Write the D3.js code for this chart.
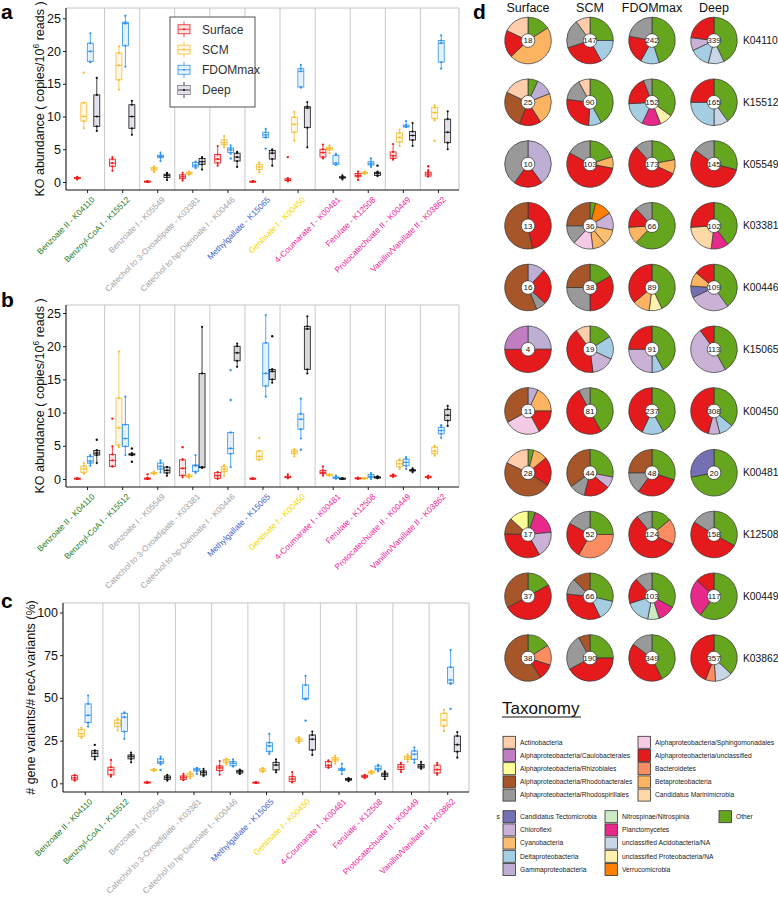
<!DOCTYPE html>
<html><head><meta charset="utf-8">
<script src="https://cdn.jsdelivr.net/npm/d3@7"></script>
<style>
body{margin:0;background:#fff}
svg{display:block;font-family:"Liberation Sans",Arial,Helvetica,sans-serif}
</style>
</head><body>
<svg id="chart" width="778" height="900"></svg>
<script>
// ---------------- DATA ----------------
const categories = [
  "Benzoate II - K04110","Benzoyl-CoA I - K15512","Benzoate I - K05549",
  "Catechol to 3-Oxoadipate - K03381","Catechol to hp-Dienoate I - K00446",
  "Methylgallate - K15065","Gentisate I - K00450","4-Coumarate I - K00481",
  "Ferulate - K12508","Protocatechuate II - K00449","Vanillin/Vanillate II - K03862"];
const pathwayGroup = ["benzoyl","benzoyl","catechol","catechol","catechol","gallate","gentisate","proto","proto","proto","proto"];
const depths = ["Surface","SCM","FDOMmax","Deep"];

// boxplot stats per category: [lower whisker, q1, median, q3, upper whisker]
const aSurface = [[0.4,0.5,0.6,0.7,0.8],[1.7,2.4,2.9,3.5,3.8],[0,0.02,0.05,0.08,0.15],[0.2,0.5,0.8,1.1,1.4],[2.5,2.9,3.5,4.2,5.5],[0,0.02,0.05,0.08,0.12],[0.1,0.2,0.3,0.5,0.6],[3.6,3.8,4.5,5.0,5.7],[0.3,0.8,1.0,1.3,1.6],[3.4,3.6,4.0,4.6,5.8],[0.8,0.9,1.2,1.5,1.8]];
const aSCM = [[8.2,9.3,10.0,12.1,12.1],[14.1,15.6,17.8,19.7,20.7],[1.5,1.8,2.0,2.2,2.4],[1.1,1.2,1.3,1.5,1.6],[5.3,5.7,6.0,6.4,7.0],[1.5,1.9,2.3,2.7,3.0],[6.3,7.6,8.8,9.9,10.7],[4.4,4.9,5.1,5.3,5.6],[1.2,1.3,1.4,1.5,1.6],[5.5,6.1,6.8,7.5,8.0],[9.4,9.7,10.6,11.4,11.7]];
const aFDOM = [[18.3,18.4,19.95,21.2,22.7],[17.6,20.8,24.2,24.4,25.4],[3.2,3.7,3.9,4.1,4.5],[2.1,2.3,2.6,3.0,3.1],[4.3,4.5,4.9,5.2,5.6],[6.8,6.8,7.2,7.6,8.1],[14.4,14.5,16.9,17.3,17.9],[2.6,2.7,2.9,4.1,4.3],[2.3,2.6,2.8,3.1,3.6],[8.4,8.4,8.5,8.7,9.3],[17.3,18.3,21.2,21.6,22.4]];
const aDeep = [[7.8,8.5,10.0,13.3,15.9],[7.2,8.2,10.0,11.8,12.4],[0.3,0.7,1.0,1.2,1.4],[1.9,2.7,3.1,3.6,3.8],[2.3,3.2,3.8,4.4,4.6],[2.5,3.5,4.4,4.8,5.0],[5.3,8.3,11.3,11.5,12.2],[0.4,0.6,0.7,0.8,1.0],[0.9,1.0,1.3,1.5,1.6],[5.5,6.4,7.1,7.7,9.0],[5.0,6.0,7.6,9.6,10.8]];
// outliers: [category index, depth, value]
const aOutliers = [[0,"SCM",16.7],[6,"Surface",3.8],[10,"Surface",2.4],[10,"SCM",6.3],[4,"FDOMmax",3.6],[5,"FDOMmax",5.1],[8,"Deep",2.5]];

const bSurface = [[0,0.02,0.05,0.08,0.12],[1.9,1.9,2.8,3.7,4.9],[0,0.02,0.05,0.1,0.2],[0.25,0.5,1.6,2.9,3.0],[0,0.1,0.5,1.0,1.0],[0,0.02,0.05,0.08,0.1],[0.1,0.2,0.3,0.4,0.7],[0.5,0.8,1.0,1.3,1.9],[0,0.05,0.1,0.15,0.2],[0.3,0.4,0.5,0.6,0.7],[0.1,0.2,0.3,0.4,0.5]];
const bSCM = [[0.75,1.0,1.5,1.96,2.4],[4.8,5.1,7.7,12.2,19.2],[0.7,0.8,0.9,1.0,1.1],[0.2,0.3,0.4,0.6,0.7],[0.5,1.1,1.5,1.9,2.1],[2.9,2.9,3.4,4.2,4.2],[3.4,3.8,4.1,4.4,4.5],[0.5,0.55,0.6,0.65,0.7],[0.05,0.08,0.1,0.12,0.15],[1.5,1.8,2.3,2.8,3.0],[3.5,3.8,4.2,4.8,5.0]];
const bFDOM = [[2.0,2.4,2.7,3.4,3.6],[3.6,4.9,6.1,8.2,12.4],[1.0,1.5,1.9,2.4,2.8],[0.9,1.1,2.0,2.1,3.6],[1.8,3.8,4.6,7.0,7.0],[12.4,14.0,15.9,20.5,24.7],[6.1,7.5,9.0,9.8,12.1],[0.05,0.1,0.2,0.3,0.5],[0,0.2,0.4,0.7,0.9],[1.5,2.0,2.5,3.0,3.3],[6.2,6.8,7.3,7.8,8.1]];
const bDeep = [[2.4,3.6,3.9,4.3,4.3],[3.6,3.6,3.7,3.8,3.9],[0.5,0.9,1.3,1.8,1.8],[1.7,1.7,1.8,15.9,22.9],[16.9,17.8,19.0,20.0,20.4],[14.5,15.0,16.2,16.5,16.5],[15.9,16.5,22.6,23.0,24.5],[0,0.02,0.05,0.08,0.1],[0.1,0.15,0.2,0.35,0.4],[1.0,1.2,1.3,1.4,1.6],[8.0,8.8,9.6,10.5,11.0]];
const bOutliers = [[1,"Surface",9.1],[2,"Surface",0.7],[3,"Surface",4.8],[5,"SCM",6.2],[4,"FDOMmax",16.4],[4,"FDOMmax",11.9],[6,"FDOMmax",4.4],[0,"Deep",5.9],[1,"Deep",4.6],[1,"Deep",2.6],[5,"Deep",21.5]];

const cSurface = [[1.5,2.0,3.2,4.5,5.0],[3.9,4.9,7.8,9.4,13.7],[0.2,0.3,0.5,0.6,0.8],[1.8,2.3,3.3,4.3,5.5],[5.0,7.4,9.0,10.2,13.0],[0.2,0.3,0.4,0.5,0.6],[0.5,1.0,2.5,3.9,6.5],[9.0,9.4,10.5,12.7,13.5],[3.0,3.5,4.0,4.7,5.0],[6.6,8.0,9.5,11.0,12.0],[5.0,6.0,8.0,10.7,12.0]];
const cSCM = [[26.5,27.5,29,31.5,32.5],[30.9,33.2,35.2,37.1,38],[7.0,7.5,7.8,8.1,8.5],[3.0,4.0,5.0,6.0,6.5],[11,12,13,14,14.5],[6.5,7.0,7.8,8.5,9.0],[23.5,24.5,25.4,26.5,27],[11.5,13,14,15,16],[5.5,6.0,6.5,7.0,7.5],[12.5,14,15,16,17],[30.5,33.5,37,41,43]];
const cFDOM = [[33.2,35.5,39.8,46.5,51.4],[26,30.3,38.7,41,41.6],[11,11.7,12.5,14.3,15.6],[5.5,7.2,8,8.8,9],[9.8,10.2,11.7,12.7,14],[17.2,18.5,21.9,23.8,28.9],[49,49.4,49.6,57.6,62.9],[5.5,7.5,8,8.8,11.5],[7,7.8,8.6,10.2,10.8],[12,14,17,19,21],[58,58.6,60.5,68,78]];
const cDeep = [[14,15.6,17.6,19.1,19.1],[12.3,14.3,15.6,16.6,18],[1.5,2.3,3.3,4.3,5],[4.3,4.9,6.2,7.2,8.4],[5.5,6,6.8,7.6,8],[6.4,7.8,10.7,12.3,14],[16.6,19.5,25.8,28.3,30.3],[1.2,1.8,2.2,2.8,3],[2.5,4,5,6,7],[8.5,9,10,11,12.5],[15,18.5,22.6,27.7,30]];
const cOutliers = [[2,"FDOMmax",7.8],[6,"FDOMmax",36.7],[10,"FDOMmax",43.6],[0,"Deep",22.5]];

const ticksAB = [0,5,10,15,20,25];
const ticksC = [0,25,50,75,100];

// Pie data (panel d)
const pieKOs = ["K04110","K15512","K05549","K03381","K00446","K15065","K00450","K00481","K12508","K00449","K03862"];
const pieTotals = [[18,147,242,339],[25,90,152,165],[10,103,173,145],[13,36,66,102],[16,38,89,109],[4,19,91,113],[11,81,237,308],[28,44,48,20],[17,52,124,158],[37,66,103,117],[38,190,349,357]];
const taxa = ["Actinobacteria","Alphaproteobacteria/Caulobacterales","Alphaproteobacteria/Rhizobiales","Alphaproteobacteria/Rhodobacterales","Alphaproteobacteria/Rhodospirillales",
  "Alphaproteobacteria/Sphingomonadales","Alphaproteobacteria/unclassified","Bacteroidetes","Betaproteobacteria","Candidatus Marinimicrobia",
  "Candidatus Tectomicrobia","Chloroflexi","Cyanobacteria","Deltaproteobacteria","Gammaproteobacteria",
  "Nitrospinae/Nitrospinia","Planctomycetes","unclassified Acidobacteria/NA","unclassified Proteobacteria/NA","Verrucomicrobia","Other"];
const taxaCodes = ["Act","Cau","Rhi","Rhb","Rhs","Sph","AlU","Bac","Bet","Mar","Tec","Chl","Cya","Del","Gam","Nit","Pla","Aci","Pro","Ver","Oth"];
// slices per KO row, per depth (clockwise from 12 o'clock), percent
const slicesK04110 = [[["Oth",16],["Bet",47],["AlU",19],["Act",18]],[["Oth",25],["Del",17],["AlU",28],["Rhs",20],["Act",10]],[["Oth",45],["Del",13],["AlU",20],["Rhs",22]],[["Oth",43],["Aci",11],["Del",14],["Chl",9],["AlU",23]]];
const slicesK15512 = [[["Oth",7],["Gam",12],["Bet",22],["AlU",15],["Rhb",26],["Act",18]],[["Oth",42],["Del",9],["AlU",26],["Rhs",15],["Act",8]],[["Oth",35],["Pro",9],["Pla",13],["Del",17],["AlU",20],["Rhs",6]],[["Oth",40],["Aci",10],["Del",25],["AlU",25]]];
const slicesK05549 = [[["Gam",40],["AlU",20],["Rhs",40]],[["Oth",20],["Bet",8],["AlU",55],["Rhs",17]],[["Oth",22],["Bet",10],["AlU",56],["Rhs",12]],[["Oth",29],["AlU",56],["Rhs",15]]];
const slicesK03381 = [[["AlU",47],["Rhb",53]],[["Oth",4],["Ver",12],["Chl",12],["Cya",11],["Bet",9],["Sph",14],["Rhs",13],["Rhb",25]],[["Oth",62],["Bet",12],["AlU",14],["Rhs",12]],[["Oth",40],["Pla",12],["Mar",22],["AlU",26]]];
const slicesK00446 = [[["Gam",12],["AlU",25],["Rhs",7],["Rhb",56]],[["Oth",17],["AlU",33],["Rhs",25],["Rhb",25]],[["Oth",43],["Pro",9],["Bet",12],["AlU",36]],[["Oth",40],["Chl",28],["Tec",8],["Bet",10],["AlU",14]]];
const slicesK15065 = [[["Gam",25],["AlU",50],["Cau",25]],[["Oth",16],["Del",16],["Chl",16],["AlU",42],["Act",10]],[["Oth",42],["Del",8],["Chl",25],["AlU",25]],[["Oth",42],["Chl",48],["AlU",10]]];
const slicesK00450 = [[["Gam",7],["Bet",18],["AlU",17],["Sph",25],["Rhb",33]],[["Oth",42],["AlU",50],["Rhs",8]],[["Oth",42],["Del",15],["AlU",43]],[["Oth",36],["Del",10],["Chl",8],["AlU",46]]];
const slicesK00481 = [[["Oth",4],["Bet",10],["AlU",20],["Rhb",48],["Act",18]],[["Oth",28],["Chl",8],["AlU",18],["Rhs",11],["Rhb",35]],[["Oth",30],["AlU",30],["Rhs",15],["Rhb",25]],[["Oth",72],["Tec",28]]];
const slicesK12508 = [[["Oth",5],["Pla",18],["Chl",18],["AlU",33],["Rhb",11],["Rhi",13]],[["Oth",25],["Bac",33],["AlU",25],["Rhs",17]],[["Oth",14],["Bac",18],["AlU",57],["Rhs",11]],[["Oth",33],["AlU",51],["Rhs",16]]];
const slicesK00449 = [[["Oth",17],["AlU",50],["Rhb",33]],[["Oth",28],["Del",14],["AlU",33],["Rhs",11],["Rhb",12]],[["Oth",33],["Pla",12],["Nit",8],["Del",17],["AlU",18],["Rhs",12]],[["Oth",60],["Pla",27],["AlU",13]]];
const slicesK03862 = [[["Oth",16],["Bac",14],["AlU",11],["Rhb",59]],[["Oth",25],["AlU",42],["Rhs",25],["Rhb",8]],[["Oth",43],["AlU",42],["Rhs",15]],[["Oth",37],["Aci",12],["Bac",7],["AlU",44]]];
const pieSlices = [slicesK04110,slicesK15512,slicesK05549,slicesK03381,slicesK00446,slicesK15065,slicesK00450,slicesK00481,slicesK12508,slicesK00449,slicesK03862];

// ---------------- STYLE ----------------
const FONT = '"Liberation Sans",Arial,Helvetica,sans-serif';
const depthColor = d3.scaleOrdinal(depths, ["#F21B1B","#F6BE2E","#2D93F2","#111111"]);
const depthFill = d3.scaleOrdinal(depths, ["#F21B1B","#F6BE2E","#2D93F2","#6E5A8C"]);
const groupColor = d3.scaleOrdinal(["benzoyl","catechol","gallate","gentisate","proto"], ["#1E7D1E","#A3A3A3","#3F5FD0","#F2D600","#F0259B"]);
const taxaColor = d3.scaleOrdinal(taxaCodes, ["#FDCDAC","#C17DC1","#FFFF99","#A65628","#999999","#F4CAE4","#E41A1C","#FC8D62","#FDB462","#FED9A6","#7570B3","#CAB2D6","#FDBF6F","#A6CEE3","#BEAED4","#CCEBC5","#E7298A","#CBD5E8","#FFF2AE","#FF7F00","#66A61E"]);

const svg = d3.select("#chart");
svg.append("rect").attr("width",778).attr("height",900).attr("fill","#fff");

function boxPanel(cfg) {
  const x = d3.scalePoint().domain(categories).range([cfg.x0, cfg.x1]).padding(0.6);
  const step = x.step();
  const dodge = d3.scaleBand().domain(depths).range([-0.37*step, 0.37*step]);
  const bw = dodge.bandwidth()*0.92;
  const y = d3.scaleLinear().domain(cfg.domain).range(cfg.range);
  const g = svg.append("g");
  g.selectAll("line.sep").data(categories.slice(1)).join("line")
    .attr("x1", c => x(c)-step/2).attr("x2", c => x(c)-step/2)
    .attr("y1", cfg.top).attr("y2", cfg.bottom)
    .attr("stroke","#c9c9c9").attr("stroke-width",1);
  g.append("path").attr("d",`M${cfg.x0},${cfg.top}H${cfg.x1}V${cfg.bottom}`)
    .attr("fill","none").attr("stroke","#c4c4c4").attr("stroke-width",1);
  const series = cfg.series;
  depths.forEach((dp, di) => {
    const arr = series[di];
    const col = depthColor(dp);
    arr.forEach((s, ci) => {
      const cx = x(categories[ci]) + dodge(dp) + dodge.bandwidth()/2;
      const bg = g.append("g");
      bg.append("line").attr("x1",cx).attr("x2",cx).attr("y1",y(s[0])).attr("y2",y(s[1]))
        .attr("stroke",col).attr("stroke-width",0.8);
      bg.append("line").attr("x1",cx).attr("x2",cx).attr("y1",y(s[3])).attr("y2",y(s[4]))
        .attr("stroke",col).attr("stroke-width",0.8);
      const h = Math.max(y(s[1]) - y(s[3]), 1.2);
      bg.append("rect").attr("x",cx-bw/2).attr("width",bw)
        .attr("y",(y(s[1])+y(s[3]))/2 - h/2).attr("height",h)
        .attr("fill", dp==="Deep" ? cfg.deepFill : depthFill(dp))
        .attr("fill-opacity", dp==="Deep" ? 1 : 0.12)
        .attr("stroke",col).attr("stroke-width",0.8);
      bg.append("line").attr("x1",cx-bw/2).attr("x2",cx+bw/2).attr("y1",y(s[2])).attr("y2",y(s[2]))
        .attr("stroke",col).attr("stroke-width",0.9);
      bg.selectAll("circle").data(s).join("circle")
        .attr("cx",cx).attr("cy",v=>y(v)).attr("r",1.1).attr("fill",col);
    });
  });
  g.selectAll("circle.out").data(cfg.outliers).join("circle")
    .attr("cx", d => x(categories[d[0]]) + dodge(d[1]) + dodge.bandwidth()/2)
    .attr("cy", d => y(d[2])).attr("r",1.2).attr("fill", d => depthColor(d[1]));
  const ya = g.append("g").attr("transform",`translate(${cfg.x0},0)`)
    .call(d3.axisLeft(y).tickValues(cfg.ticks).tickSize(3).tickSizeOuter(0));
  ya.select(".domain").remove();
  ya.selectAll("text").attr("font-size",12.5).attr("fill","#111").attr("font-family",FONT).attr("x",-5);
  ya.selectAll("line").attr("stroke","#222");
  g.append("line").attr("x1",cfg.x0).attr("x2",cfg.x0).attr("y1",cfg.top).attr("y2",cfg.bottom)
    .attr("stroke","#111").attr("stroke-width",1.1);
  const xa = g.append("g").attr("transform",`translate(0,${cfg.bottom})`)
    .call(d3.axisBottom(x).tickSize(3).tickSizeOuter(0));
  xa.select(".domain").remove();
  xa.selectAll("line").attr("stroke","#222");
  xa.selectAll("text").remove();
  g.append("line").attr("x1",cfg.x0).attr("x2",cfg.x1).attr("y1",cfg.bottom).attr("y2",cfg.bottom)
    .attr("stroke","#111").attr("stroke-width",1.1);
  g.selectAll("text.xl").data(categories).join("text")
    .attr("transform", c => `translate(${x(c)+4},${cfg.bottom+6}) rotate(-45)`)
    .attr("text-anchor","end").attr("dy","0.72em")
    .attr("font-size",8.3).attr("font-family",FONT)
    .attr("fill",(c,i) => groupColor(pathwayGroup[i]))
    .text(c => c);
  const t = g.append("text")
    .attr("transform",`translate(${cfg.titleX},${(cfg.top+cfg.bottom)/2}) rotate(-90)`)
    .attr("text-anchor","middle").attr("font-size",12.5).attr("font-family",FONT).attr("fill","#111");
  cfg.title(t);
  svg.append("text").attr("x",cfg.letterX).attr("y",cfg.letterY).attr("font-size",21).attr("font-weight","bold")
    .attr("font-family",FONT).text(cfg.letter);
  return {x,y,g};
}

function koTitle(t){
  t.append("tspan").text("KO abundance ( copies/10");
  t.append("tspan").attr("font-size",8.5).attr("dy",-5).text("6");
  t.append("tspan").attr("dy",5).text(" reads )");
}

boxPanel({x0:66,x1:459,top:8,bottom:190,domain:[0,25],range:[182,18.3],ticks:ticksAB,deepFill:"#E6E0EC",
  series:[aSurface,aSCM,aFDOM,aDeep],outliers:aOutliers,title:koTitle,titleX:44,letter:"a",letterX:1,letterY:19});
boxPanel({x0:66,x1:459,top:305,bottom:487,domain:[0,25],range:[479,313],ticks:ticksAB,deepFill:"#D9D9D9",
  series:[bSurface,bSCM,bFDOM,bDeep],outliers:bOutliers,title:koTitle,titleX:44,letter:"b",letterX:1,letterY:307});
boxPanel({x0:63,x1:469,top:603,bottom:792,domain:[0,100],range:[783.3,612.5],ticks:ticksC,deepFill:"#E6E0EC",
  series:[cSurface,cSCM,cFDOM,cDeep],outliers:cOutliers,title:t=>t.text("# gene variants/# recA variants (%)"),titleX:35,letter:"c",letterX:1,letterY:608});

// legend panel a
const lg = svg.append("g");
lg.append("rect").attr("x",170).attr("y",17).attr("width",85).attr("height",90)
  .attr("fill","#fff").attr("stroke","#555").attr("stroke-width",1);
const ly = d3.scalePoint().domain(depths).range([29.3,90]);
depths.forEach(dp => {
  const yc = ly(dp), col = depthColor(dp), cx = 184;
  lg.append("line").attr("x1",cx).attr("x2",cx).attr("y1",yc-8).attr("y2",yc+8).attr("stroke",col).attr("stroke-width",0.8);
  lg.append("rect").attr("x",cx-6).attr("y",yc-4.5).attr("width",12).attr("height",9)
    .attr("fill","#fff").attr("stroke",col).attr("stroke-width",0.8);
  lg.append("rect").attr("x",cx-6).attr("y",yc-4.5).attr("width",12).attr("height",9)
    .attr("fill",dp==="Deep" ? "#E6E0EC" : depthFill(dp)).attr("fill-opacity",dp==="Deep"?1:0.12).attr("stroke","none");
  lg.append("line").attr("x1",cx-6).attr("x2",cx+6).attr("y1",yc).attr("y2",yc).attr("stroke",col).attr("stroke-width",0.8);
  lg.append("circle").attr("cx",cx).attr("cy",yc).attr("r",1.1).attr("fill",col);
  lg.append("text").attr("x",202).attr("y",yc).attr("dy","0.35em").attr("font-size",12).attr("fill","#333")
    .attr("font-family",FONT).text(dp);
});

// ---------------- PANEL D: pies ----------------
const dg = svg.append("g");
dg.append("text").attr("x",473).attr("y",19).attr("font-size",21).attr("font-weight","bold").attr("font-family",FONT).text("d");
const px = d3.scalePoint().domain(depths).range([528,714]);
const py = d3.scalePoint().domain(pieKOs).range([40.5,658]);
dg.selectAll("text.hdr").data(depths).join("text")
  .attr("x",d=>px(d)).attr("y",12).attr("text-anchor","middle").attr("font-size",12.5)
  .attr("font-family",FONT).attr("fill","#111").text(d=>d);
dg.selectAll("text.ko").data(pieKOs).join("text")
  .attr("x",743).attr("y",d=>py(d)).attr("dy","0.35em").attr("font-size",10.3)
  .attr("font-family",FONT).attr("fill","#111").text(d=>d);
const pie = d3.pie().sort(null).value(d=>d[1]);
const arc = d3.arc().innerRadius(0).outerRadius(23.3);
pieKOs.forEach((ko, ri) => {
  depths.forEach((dp, ci) => {
    const pg = dg.append("g").attr("transform",`translate(${px(dp)},${py(ko)})`);
    pg.selectAll("path").data(pie(pieSlices[ri][ci])).join("path")
      .attr("d",arc).attr("fill",d=>taxaColor(d.data[0])).attr("stroke","#333").attr("stroke-width",0.7);
    pg.append("circle").attr("r",6.8).attr("fill","#fff").attr("stroke","#333").attr("stroke-width",0.7);
    pg.append("text").attr("text-anchor","middle").attr("dy","0.35em").attr("font-size",8)
      .attr("font-family",FONT).attr("fill","#111").text(pieTotals[ri][ci]);
  });
});

// Taxonomy legend
const tg = svg.append("g");
tg.append("text").attr("x",502).attr("y",714).attr("font-size",17).attr("font-family",FONT).attr("fill","#111").text("Taxonomy");
tg.append("line").attr("x1",502).attr("x2",581).attr("y1",717).attr("y2",717).attr("stroke","#111").attr("stroke-width",1.2);
tg.append("text").attr("x",500).attr("y",817).attr("dy","0.35em").attr("text-anchor","end").attr("font-size",6.8).attr("font-family",FONT).attr("fill","#222").text("s");
function legendBlock(codes, colsX, y0, rowsPerCol) {
  codes.forEach((code, i) => {
    const col = Math.floor(i/rowsPerCol), row = i % rowsPerCol;
    const xx = colsX[col], yy = y0 + row*13.2;
    tg.append("rect").attr("x",xx).attr("y",yy-6).attr("width",12.5).attr("height",12)
      .attr("fill",taxaColor(code)).attr("stroke","#333").attr("stroke-width",0.8);
    tg.append("text").attr("x",xx+17).attr("y",yy).attr("dy","0.35em").attr("font-size",6.7)
      .attr("font-family",FONT).attr("fill","#222").text(taxa[taxaCodes.indexOf(code)]);
  });
}
legendBlock(taxaCodes.slice(0,10), [503,638], 742.3, 5);
legendBlock(taxaCodes.slice(10), [503,605,719], 816.7, 5);
</script>
</body></html>
